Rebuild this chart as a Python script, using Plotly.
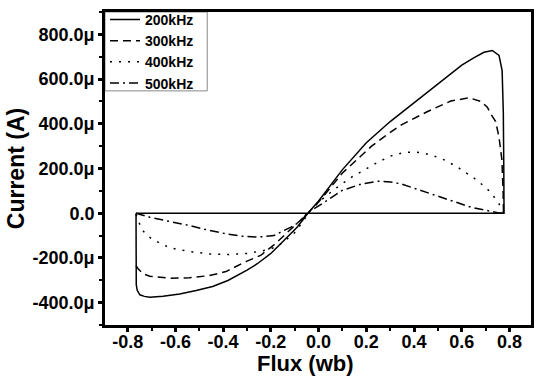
import plotly.graph_objects as go

# ---- data (flux in Wb, current in microamperes) ----
flux_200 = [-0.765, -0.765, -0.764, -0.76, -0.749, -0.73, -0.707, -0.652, -0.582, -0.513, -0.444, -0.38,
            -0.3, -0.257, -0.2, -0.159, -0.09, -0.045, 0.0, 0.1, 0.2, 0.3, 0.4, 0.5, 0.6, 0.65,
            0.693, 0.728, 0.756, 0.769, 0.774, 0.776, 0.777, -0.765]
cur_200 = [0, -250, -320, -345, -365, -372, -376, -371, -361, -346, -328, -301,
           -255, -226, -180, -137, -63, 0, 55, 195, 315, 410, 495, 580, 662, 695,
           720, 728, 706, 638, 450, 200, 0, 0]

flux_300 = [-0.765, -0.756, -0.735, -0.707, -0.624, -0.541, -0.458, -0.388, -0.3, -0.243, -0.18,
            -0.118, -0.07, -0.045, 0.0, 0.1, 0.222, 0.291, 0.347, 0.457, 0.554, 0.631, 0.68, 0.707,
            0.721, 0.742, 0.756, 0.768, 0.773, 0.775]
cur_300 = [-234, -249, -271, -282, -291, -289, -279, -261, -214, -189, -135,
           -75, -25, 0, 50, 180, 300, 355, 395, 455, 502, 516, 500, 474,
           445, 410, 340, 240, 100, 0]

flux_400 = [-0.765, -0.756, -0.738, -0.70, -0.624, -0.541, -0.458, -0.388, -0.3, -0.22, -0.174,
            -0.104, -0.062, -0.045, 0.0, 0.07, 0.138, 0.236, 0.3, 0.361, 0.42, 0.471, 0.53, 0.582,
            0.666, 0.721, 0.756, 0.77, 0.775]
cur_400 = [-5, -33, -77, -115, -155, -171, -182, -185, -180, -165, -150,
           -92, -33, 0, 50, 110, 161, 221, 255, 273, 272, 261, 237, 206,
           146, 94, 42, 10, 0]

flux_500 = [-0.765, -0.707, -0.624, -0.541, -0.458, -0.388, -0.32, -0.257, -0.187, -0.118, -0.069,
            -0.05, 0.014, 0.097, 0.18, 0.249, 0.3, 0.347, 0.388, 0.46, 0.527, 0.638, 0.721, 0.75, 0.775]
cur_500 = [0, -18, -37, -55, -77, -92, -103, -107, -100, -63, -33,
           0, 42, 101, 131, 143, 140, 131, 116, 90, 64, 27, 9, 2, 0]

series_names = ["200kHz", "300kHz", "400kHz", "500kHz"]

x_ticks = [-0.8, -0.6, -0.4, -0.2, 0.0, 0.2, 0.4, 0.6, 0.8]
y_ticks = [-400, -200, 0, 200, 400, 600, 800]
y_ticktext = ["0.0" if v == 0 else f"{v:.1f}\u03bc" for v in y_ticks]

FONT = "Arial, Liberation Sans, sans-serif"

dashes = ["solid", "8px,5px", "2px,7px", "9px,4px,2px,4px"]
data = [(flux_200, cur_200), (flux_300, cur_300), (flux_400, cur_400), (flux_500, cur_500)]

fig = go.Figure()
for (xs, ys), name, d in zip(data, series_names, dashes):
    fig.add_trace(go.Scatter(x=xs, y=ys, mode="lines", name=name,
                             line=dict(color="black", width=1.5, dash=d)))

fig.update_layout(
    width=536, height=376,
    margin=dict(l=105, r=2, t=12, b=51),
    paper_bgcolor="white", plot_bgcolor="white",
    font=dict(family=FONT, color="black"),
    showlegend=True,
    legend=dict(x=0, y=1.026, xanchor="left", yanchor="top",
                bgcolor="rgba(0,0,0,0)", borderwidth=0,
                font=dict(size=14, family=FONT, color="black", weight="bold"),
                tracegroupgap=0, itemwidth=30),
)

# legend frame (decoration only)
fig.add_shape(type="rect", xref="paper", yref="paper", x0=0, x1=0.24, y0=0.748, y1=1,
              line=dict(color="#888", width=1), fillcolor="white", layer="below")

fig.update_xaxes(
    range=[-0.895, 0.89], tickvals=x_ticks, ticktext=[f"{v:.1f}" for v in x_ticks],
    showgrid=False, zeroline=False, showline=True, linecolor="black", linewidth=2.5, mirror=True,
    ticks="outside", ticklen=4, tickwidth=2.5, tickcolor="black", ticklabelstandoff=-5,
    tickfont=dict(size=18, family=FONT, color="black", weight="bold"),
    minor=dict(ticks="outside", ticklen=3, tickwidth=2, tickcolor="black", dtick=0.1, tick0=0),
)
fig.update_yaxes(
    range=[-500, 900], tickvals=y_ticks, ticktext=y_ticktext,
    showgrid=False, zeroline=False, showline=True, linecolor="black", linewidth=2.5, mirror=True,
    ticks="outside", ticklen=4, tickwidth=2.5, tickcolor="black",
    tickfont=dict(size=18, family=FONT, color="black", weight="bold"),
    minor=dict(ticks="outside", ticklen=3, tickwidth=2, tickcolor="black", dtick=100, tick0=0),
    title=dict(text="Current (A)", font=dict(size=23, family=FONT, color="black", weight="bold"), standoff=2),
)
fig.add_annotation(text="Flux (wb)", xref="paper", yref="paper", x=0.47, y=-0.122,
                   xanchor="center", yanchor="middle", showarrow=False,
                   font=dict(size=22, family=FONT, color="black", weight="bold"))

fig.write_html("out.html")
